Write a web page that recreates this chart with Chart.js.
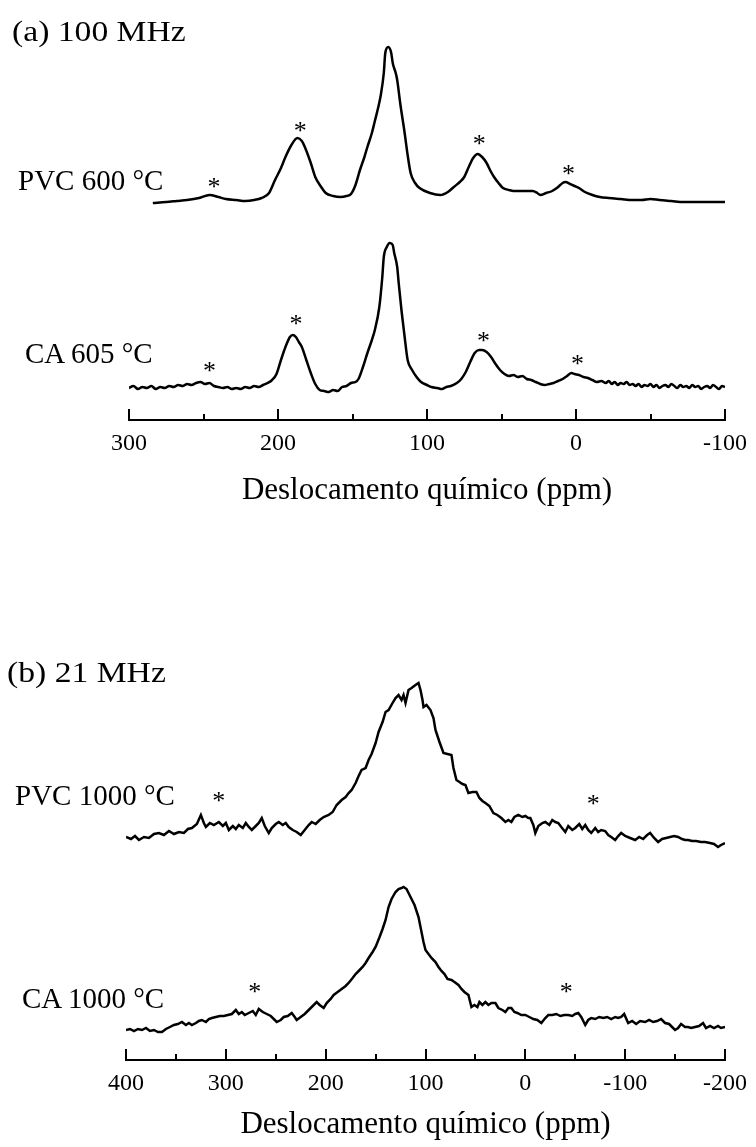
<!DOCTYPE html>
<html>
<head>
<meta charset="utf-8">
<script src="https://cdn.jsdelivr.net/npm/chart.js@4.4.0/dist/chart.umd.min.js"></script>
<style>
  body { margin: 0; background: #fff; }
  .page { position: relative; width: 756px; height: 1147px; overflow: hidden; }
  canvas { position: absolute; left: 0; }
  .lbl { position: absolute; font-family: 'Liberation Serif', serif; font-size: 29px; line-height: 1; color: #000; white-space: nowrap; }
  .head { transform: scaleX(1.16); transform-origin: left top; }
</style>
</head>
<body>
<div class="page">
  <canvas id="chartA" width="756" height="530" style="top:0"></canvas>
  <canvas id="chartB" width="756" height="587" style="top:560px"></canvas>
  <div class="lbl head" style="left:12px;top:17px">(a) 100 MHz</div>
  <div class="lbl" style="left:18px;top:166px">PVC 600 °C</div>
  <div class="lbl" style="left:25px;top:339px">CA 605 °C</div>
  <div class="lbl head" style="left:7px;top:658px">(b) 21 MHz</div>
  <div class="lbl" style="left:15px;top:781px">PVC 1000 °C</div>
  <div class="lbl" style="left:22px;top:984px">CA 1000 °C</div>
</div>
<script>
// ---- (a) 100 MHz : PVC 600 °C ----
const pvc600Ppm = [284, 275, 268, 261, 253, 246, 240, 235, 228, 222, 216, 211, 206, 202, 198, 195, 191, 187, 184, 182, 178, 175, 171, 168, 163, 158, 154, 151, 148, 145, 142, 140, 137, 135, 133, 131, 129, 128, 126, 124, 123, 121, 120, 118, 115, 113, 111, 108, 105, 98, 91, 86, 82, 78, 75, 72, 69, 66, 63, 60, 57, 55, 52, 49, 45, 42, 36, 32, 29, 26, 24, 20, 16, 12, 9, 7, 4, 1, -2, -6, -11, -16, -22, -30, -38, -44, -50, -56, -64, -72, -81, -90, -101];
const pvc600Int = [0, 1, 2, 3, 5, 8, 6, 4, 3, 2, 3, 5, 10, 23, 35, 46, 58, 65, 62, 56, 40, 26, 16, 10, 7, 6, 7, 9, 18, 33, 46, 56, 70, 82, 94, 108, 130, 150, 156, 150, 140, 130, 123, 100, 70, 48, 30, 20, 15, 10, 8, 11, 16, 21, 26, 36, 45, 49, 46, 40, 31, 26, 20, 15, 13, 12, 12, 12, 12, 10, 8, 10, 12, 16, 20, 21, 19, 17, 15, 11, 8, 6, 5, 4, 3, 3, 4, 3, 2, 1, 1, 1, 1];

// ---- (a) 100 MHz : CA 605 °C ----
const ca605Ppm = [300, 297, 294, 291, 288, 285, 282, 279, 276, 273, 270, 267, 264, 261, 258, 255, 252, 249, 246, 243, 240, 237, 234, 231, 228, 225, 222, 219, 216, 213, 210, 207, 204, 201, 198, 195, 192, 190, 188, 186, 184, 181, 178, 175, 172, 169, 166, 163, 160, 157, 154, 151, 148, 146, 143, 140, 137, 135, 132, 130, 129, 127, 125, 123, 122, 120, 119, 117, 115, 113, 110, 107, 104, 100, 97, 93, 90, 87, 84, 80, 77, 74, 71, 68, 65, 63, 60, 57, 54, 51, 48, 45, 42, 39, 36, 33, 30, 27, 24, 21, 18, 15, 12, 9, 6, 3, 1, -2, -5, -8, -11, -14, -17, -20, -22, -24, -26, -28, -30, -32, -34, -36, -38, -40, -42, -44, -46, -48, -50, -52, -54, -56, -58, -60, -62, -64, -66, -68, -70, -72, -74, -76, -78, -80, -82, -84, -86, -88, -90, -92, -94, -96, -98, -100];
const ca605Int = [4, 6, 3, 5, 4, 6, 3, 5, 4, 6, 5, 7, 6, 8, 7, 9, 10, 8, 9, 6, 5, 4, 5, 3, 4, 3, 5, 4, 6, 5, 7, 9, 12, 18, 32, 45, 55, 57, 55, 50, 45, 32, 19, 8, 2, 1, 0, 2, 1, 5, 6, 9, 10, 13, 25, 39, 52, 62, 85, 115, 135, 145, 149, 147, 139, 125, 109, 80, 55, 32, 22, 15, 10, 7, 5, 4, 3, 5, 6, 9, 13, 20, 30, 39, 42, 42, 40, 35, 28, 22, 18, 16, 17, 15, 16, 13, 12, 10, 8, 7, 8, 9, 11, 13, 16, 19, 18, 17, 15, 14, 12, 10, 11, 9, 11, 8, 10, 7, 9, 8, 10, 7, 8, 6, 8, 5, 7, 6, 8, 5, 7, 4, 6, 7, 5, 8, 6, 4, 7, 5, 6, 4, 7, 5, 6, 3, 5, 6, 4, 7, 5, 3, 6, 5];

// ---- (b) 21 MHz : PVC 1000 °C ----
const pvc1000Ppm = [400, 395, 391, 387, 382, 377, 372, 367, 362, 357, 352, 347, 342, 338, 334, 329, 325, 322, 320, 316, 312, 307, 303, 300, 297, 293, 290, 287, 283, 280, 277, 274, 270, 267, 264, 261, 257, 254, 250, 247, 243, 240, 237, 233, 229, 225, 221, 217, 214, 210, 206, 202, 197, 193, 189, 184, 180, 177, 174, 170, 167, 164, 160, 157, 154, 150, 147, 143, 140, 137, 133, 130, 127, 124, 122, 120, 117, 114, 110, 107, 105, 103, 102, 99, 95, 92, 90, 86, 82, 78, 74, 72, 69, 66, 63, 60, 57, 53, 49, 46, 43, 40, 36, 32, 28, 24, 20, 17, 14, 11, 7, 3, 0, -3, -5, -8, -10, -13, -17, -20, -24, -27, -30, -33, -36, -40, -43, -47, -50, -54, -57, -60, -63, -66, -70, -73, -76, -80, -83, -86, -90, -93, -96, -100, -105, -110, -114, -118, -122, -125, -129, -133, -137, -141, -145, -149, -153, -157, -160, -163, -167, -171, -176, -180, -185, -189, -193, -196, -200];
const pvc1000Int = [13, 11, 14, 10, 13, 12, 16, 17, 15, 19, 16, 18, 17, 21, 22, 26, 35, 27, 23, 27, 25, 28, 24, 27, 20, 24, 21, 25, 22, 27, 23, 20, 24, 27, 32, 24, 17, 22, 26, 28, 25, 27, 23, 20, 18, 15, 20, 25, 28, 26, 30, 33, 35, 38, 45, 50, 53, 57, 60, 67, 74, 80, 82, 90, 96, 107, 118, 128, 138, 140, 147, 152, 155, 150, 155, 147, 160, 162, 165, 167, 160, 150, 143, 145, 140, 132, 120, 108, 97, 96, 95, 82, 70, 68, 66, 65, 57, 58, 58, 52, 49, 47, 44, 37, 35, 32, 28, 30, 28, 33, 35, 33, 34, 32, 32, 25, 17, 24, 27, 28, 25, 30, 28, 27, 23, 18, 24, 20, 22, 26, 21, 25, 20, 17, 22, 18, 20, 19, 15, 13, 10, 14, 17, 14, 12, 10, 13, 11, 15, 17, 12, 8, 11, 12, 13, 14, 13, 11, 10, 10, 9, 9, 8, 8, 7, 6, 3, 5, 7];

// ---- (b) 21 MHz : CA 1000 °C ----
const ca1000Ppm = [400, 396, 392, 388, 384, 380, 376, 372, 368, 364, 360, 356, 352, 348, 344, 340, 337, 334, 330, 327, 324, 320, 317, 314, 310, 306, 302, 298, 294, 290, 287, 284, 281, 277, 273, 270, 267, 263, 259, 255, 252, 249, 245, 242, 238, 234, 231, 229, 225, 221, 217, 213, 209, 206, 202, 199, 195, 192, 188, 184, 180, 177, 173, 170, 166, 163, 160, 157, 153, 150, 146, 143, 140, 137, 134, 130, 127, 124, 122, 119, 117, 114, 111, 107, 104, 102, 100, 97, 94, 90, 87, 84, 81, 78, 74, 71, 67, 64, 61, 57, 54, 51, 48, 46, 43, 40, 37, 34, 30, 27, 23, 20, 17, 14, 11, 8, 4, 0, -4, -8, -12, -16, -20, -23, -27, -31, -35, -39, -43, -47, -50, -53, -56, -60, -63, -66, -70, -74, -78, -82, -86, -90, -93, -96, -99, -103, -107, -111, -115, -120, -124, -128, -132, -136, -140, -144, -147, -150, -153, -156, -160, -163, -166, -170, -174, -178, -181, -185, -189, -193, -196, -200];
const ca1000Int = [2, 3, 1, 3, 2, 4, 1, 2, 0, 0, 3, 5, 7, 8, 10, 7, 9, 7, 9, 11, 12, 10, 13, 14, 15, 16, 16, 17, 18, 22, 18, 20, 17, 19, 21, 17, 23, 20, 18, 16, 13, 10, 12, 15, 16, 19, 15, 12, 15, 18, 22, 26, 30, 27, 24, 29, 33, 37, 40, 43, 46, 49, 54, 58, 62, 65, 69, 74, 80, 85, 95, 103, 112, 125, 133, 140, 143, 144, 145, 143, 139, 133, 127, 115, 100, 90, 82, 78, 74, 70, 65, 61, 58, 53, 52, 50, 47, 43, 40, 37, 25, 27, 25, 30, 27, 30, 27, 29, 29, 24, 22, 20, 24, 24, 20, 19, 17, 17, 15, 13, 12, 9, 14, 17, 17, 18, 16, 17, 17, 16, 18, 19, 15, 7, 12, 14, 13, 15, 14, 15, 13, 15, 14, 15, 18, 9, 11, 8, 11, 10, 12, 10, 11, 13, 9, 8, 5, 2, 4, 8, 5, 5, 4, 5, 6, 9, 4, 6, 4, 6, 4, 5];

// spinning sideband markers (*)
const starAPvcPpm = [243, 185, 65, 5];
const starAPvcInt = [20, 76, 63, 33];
const starACaPpm = [246, 188, 62, -1];
const starACaInt = [25, 72, 55, 32];
const starBPvcPpm = [307, -68];
const starBPvcInt = [53, 50];
const starBCaPpm = [271, -41];
const starBCaInt = [44, 44];

const serif = "'Liberation Serif', 'Times New Roman', serif";

const toPoints = (xs, ys) => xs.map((x, i) => ({ x, y: ys[i] }));

// ticks pointing up from the axis line, long every 100 ppm, short every 50
const axisTicks = {
  id: 'axisTicks',
  afterDraw(chart) {
    const scale = chart.scales.x;
    const ctx = chart.ctx;
    ctx.save();
    ctx.strokeStyle = '#000';
    ctx.lineWidth = 2;
    scale.ticks.forEach((tick) => {
      const px = Math.round(scale.getPixelForValue(tick.value));
      const len = tick.value % 100 === 0 ? 11 : 6;
      ctx.beginPath();
      ctx.moveTo(px, scale.top);
      ctx.lineTo(px, scale.top - len);
      ctx.stroke();
    });
    ctx.restore();
  },
};

const starMarks = {
  id: 'starMarks',
  afterDatasetsDraw(chart, args, opts) {
    const ctx = chart.ctx;
    const xs = chart.scales.x;
    ctx.save();
    ctx.fillStyle = '#000';
    ctx.font = `26px ${serif}`;
    ctx.textAlign = 'center';
    ctx.textBaseline = 'middle';
    opts.sets.forEach((set) => {
      const ys = chart.scales[set.axis];
      set.ppm.forEach((p, i) => {
        ctx.fillText('*', xs.getPixelForValue(p), ys.getPixelForValue(set.int[i]) + 5);
      });
    });
    ctx.restore();
  },
};

function lineSet(points, axis, smooth) {
  return {
    data: points,
    yAxisID: axis,
    borderColor: '#000',
    borderWidth: 2.5,
    pointRadius: 0,
    fill: false,
    cubicInterpolationMode: smooth ? 'monotone' : 'default',
    tension: 0,
  };
}

function makeChart(id, cfg) {
  return new Chart(document.getElementById(id), {
    type: 'line',
    data: { datasets: cfg.datasets },
    options: {
      responsive: false,
      animation: false,
      devicePixelRatio: 1,
      layout: { padding: cfg.padding },
      plugins: { legend: { display: false }, tooltip: { enabled: false }, starMarks: { sets: cfg.stars } },
      scales: {
        x: {
          type: 'linear',
          min: cfg.xMin,
          max: cfg.xMax,
          reverse: true,
          grid: { display: false, drawTicks: false },
          border: { display: true, color: '#000', width: 2 },
          ticks: {
            stepSize: 50,
            autoSkip: false,
            maxRotation: 0,
            padding: 9,
            color: '#000',
            font: { family: serif, size: 24 },
            callback: (v) => (v % 100 === 0 ? String(v) : ''),
          },
          title: {
            display: true,
            text: 'Deslocamento químico (ppm)',
            color: '#000',
            font: { family: serif, size: 31 },
            padding: { top: 0, bottom: cfg.titlePad },
          },
          afterFit: (s) => {
            s.height = cfg.axisHeight;
          },
        },
        yTop: { display: false, min: cfg.topRange[0], max: cfg.topRange[1] },
        yBot: { display: false, min: cfg.botRange[0], max: cfg.botRange[1] },
      },
    },
    plugins: [axisTicks, starMarks],
  });
}

makeChart('chartA', {
  xMin: -100,
  xMax: 300,
  padding: { left: 129, right: 25, top: 40, bottom: 0 },
  axisHeight: 110,
  titlePad: 21,
  topRange: [-217, 163],
  botRange: [-28, 352],
  datasets: [
    lineSet(toPoints(pvc600Ppm, pvc600Int), 'yTop', true),
    lineSet(toPoints(ca605Ppm, ca605Int), 'yBot', true),
  ],
  stars: [
    { axis: 'yTop', ppm: starAPvcPpm, int: starAPvcInt },
    { axis: 'yBot', ppm: starACaPpm, int: starACaInt },
  ],
});

makeChart('chartB', {
  xMin: -200,
  xMax: 400,
  padding: { left: 126, right: 30, top: 100, bottom: 0 },
  axisHeight: 87,
  titlePad: 4,
  topRange: [-210, 190],
  botRange: [-28, 372],
  datasets: [
    lineSet(toPoints(pvc1000Ppm, pvc1000Int), 'yTop', false),
    lineSet(toPoints(ca1000Ppm, ca1000Int), 'yBot', false),
  ],
  stars: [
    { axis: 'yTop', ppm: starBPvcPpm, int: starBPvcInt },
    { axis: 'yBot', ppm: starBCaPpm, int: starBCaInt },
  ],
});
</script>
</body>
</html>
